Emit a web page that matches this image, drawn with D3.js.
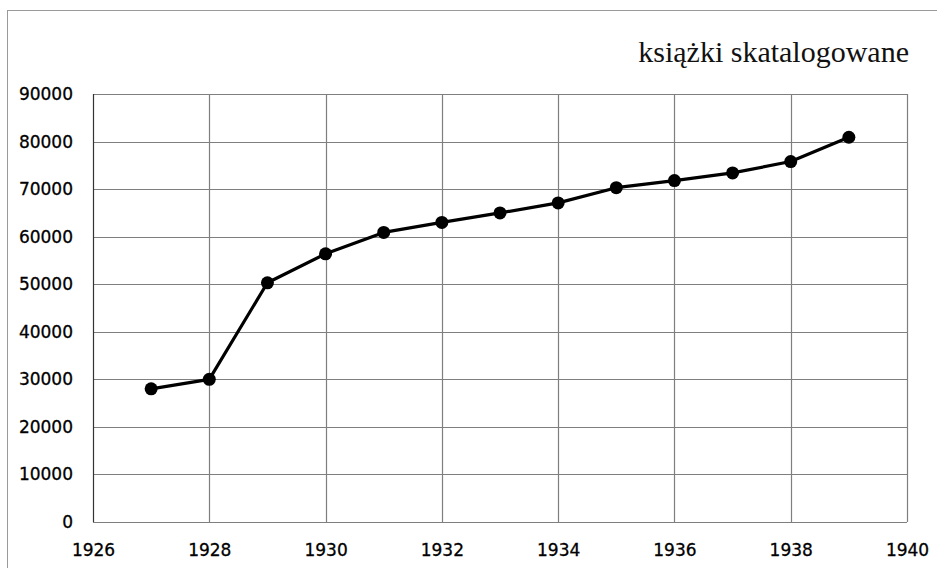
<!DOCTYPE html>
<html>
<head>
<meta charset="utf-8">
<script src="https://cdn.jsdelivr.net/npm/d3@7"></script>
<style>
  body { margin: 0; background: #fff; }
</style>
</head>
<body>
<div id="chart"></div>
<script>
const years = [1927, 1928, 1929, 1930, 1931, 1932, 1933, 1934, 1935, 1936, 1937, 1938, 1939];
const books = [28000, 30000, 50300, 56400, 60900, 63000, 65000, 67100, 70300, 71800, 73400, 75800, 80900];
const xTicks = [1926, 1928, 1930, 1932, 1934, 1936, 1938, 1940];
const yTicks = [0, 10000, 20000, 30000, 40000, 50000, 60000, 70000, 80000, 90000];
const title = 'książki skatalogowane';

const width = 937, height = 568;
const margin = { top: 94, right: 30, bottom: 46, left: 93 };

const svg = d3.select('#chart').append('svg')
  .attr('width', width)
  .attr('height', height);

// outer frame
svg.append('rect')
  .attr('x', 7.5).attr('y', 10.5)
  .attr('width', 940).attr('height', 570)
  .attr('fill', 'none')
  .attr('stroke', '#9a9a9a')
  .attr('stroke-width', 1);

const x = d3.scaleLinear()
  .domain([1926, 1940])
  .range([margin.left, width - margin.right]);

const y = d3.scaleLinear()
  .domain([0, 90000])
  .range([height - margin.bottom, margin.top]);

// gridlines
svg.append('g')
  .selectAll('line')
  .data(yTicks)
  .enter().append('line')
  .attr('x1', x(1926)).attr('x2', x(1940))
  .attr('y1', d => Math.round(y(d)) + 0.5)
  .attr('y2', d => Math.round(y(d)) + 0.5)
  .attr('stroke', '#7f7f7f')
  .attr('stroke-width', 1.2);

svg.append('g')
  .selectAll('line')
  .data(xTicks)
  .enter().append('line')
  .attr('x1', d => Math.round(x(d)) + 0.5)
  .attr('x2', d => Math.round(x(d)) + 0.5)
  .attr('y1', y(0)).attr('y2', y(90000))
  .attr('stroke', d => d === 1926 ? '#333' : '#7f7f7f')
  .attr('stroke-width', 1.2);

const labelStyle = sel => sel
  .attr('font-family', 'DejaVu Sans, sans-serif')
  .attr('font-size', 17)
  .attr('fill', '#000')
  .attr('stroke', '#000')
  .attr('stroke-width', 0.3);

// axes labels
const yAxis = d3.axisLeft(y).tickValues(yTicks).tickFormat(d3.format('d')).tickSize(0).tickPadding(20);
svg.append('g')
  .attr('transform', `translate(${margin.left},0)`)
  .call(yAxis)
  .call(g => g.select('.domain').remove())
  .selectAll('text')
  .call(labelStyle);

const xAxis = d3.axisBottom(x).tickValues(xTicks).tickFormat(d3.format('d')).tickSize(0).tickPadding(22);
svg.append('g')
  .attr('transform', `translate(0,${y(0)})`)
  .call(xAxis)
  .call(g => g.select('.domain').remove())
  .selectAll('text')
  .call(labelStyle);

// line
const line = d3.line()
  .x((d, i) => x(years[i]))
  .y(d => y(d));

svg.append('path')
  .datum(books)
  .attr('d', line)
  .attr('fill', 'none')
  .attr('stroke', '#000')
  .attr('stroke-width', 3.2)
  .attr('stroke-linejoin', 'round');

svg.append('g')
  .selectAll('circle')
  .data(books)
  .enter().append('circle')
  .attr('cx', (d, i) => x(years[i]))
  .attr('cy', d => y(d))
  .attr('r', 6.5)
  .attr('fill', '#000');

// title
svg.append('text')
  .attr('x', 909)
  .attr('y', 62)
  .attr('text-anchor', 'end')
  .attr('font-family', 'Liberation Serif, serif')
  .attr('font-size', 30)
  .attr('fill', '#111')
  .text(title);
</script>
</body>
</html>
